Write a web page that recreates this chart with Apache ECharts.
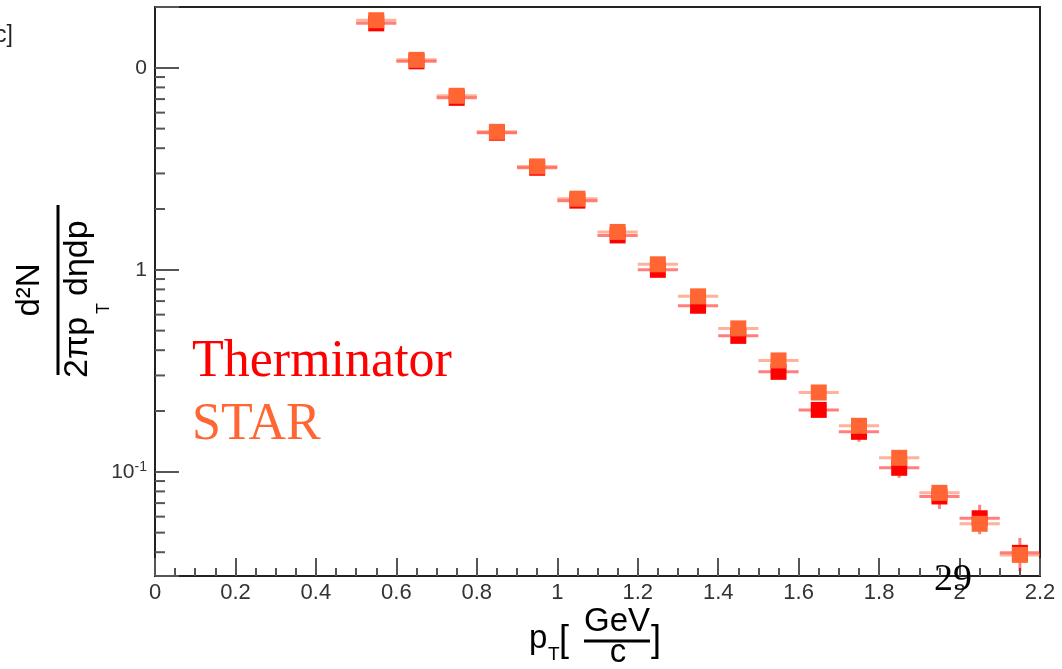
<!DOCTYPE html>
<html><head><meta charset="utf-8">
<script src="https://cdn.jsdelivr.net/npm/echarts@6/dist/echarts.min.js"></script>
<style>html,body{margin:0;padding:0;background:#fff}#c{width:1062px;height:669px}</style>
</head><body><div id="c"></div>
<script>
// ---- data ----
const pT = [0.55,0.65,0.75,0.85,0.95,1.05,1.15,1.25,1.35,1.45,1.55,1.65,1.75,1.85,1.95,2.05,2.15];
const pTHalfBin = [0.05,0.05,0.05,0.05,0.05,0.05,0.05,0.05,0.05,0.05,0.05,0.05,0.05,0.05,0.05,0.05,0.05];
const starY = [17.2,10.95,7.27,4.82,3.25,2.25,1.54,1.065,0.739,0.513,0.356,0.247,0.169,0.1173,0.0787,0.0553,0.0388];
const starErr = [0,0,0,0,0,0,0,0,0,0,0,0,0,0,0,0,0];
const thermY = [16.6,10.77,7.10,4.77,3.20,2.20,1.48,1.0,0.664,0.471,0.3126,0.2026,0.1578,0.1047,0.0755,0.0589,0.0397];
const thermErr = [0,0,0,0,0,0,0,0,0,0,0,0,0.017,0.0113,0.010,0.0098,0.0074];
const xTickLabels = ['0','0.2','0.4','0.6','0.8','1','1.2','1.4','1.6','1.8','2','2.2'];
const yMajorTicks = [0.1, 1, 10];
const yMajorLabels = ['{b|10}{s|-1}', '1', '0'];
const yMinorTicks = [0.04,0.05,0.06,0.07,0.08,0.09,0.2,0.3,0.4,0.5,0.6,0.7,0.8,0.9,2,3,4,5,6,7,8,9];

const SANS = '"Liberation Sans", Arial, sans-serif';
const SERIF = '"Liberation Serif", "Times New Roman", serif';

function makeRender(color, barColor) {
  return function (params, api) {
    const x = api.value(0), y = api.value(1), e = api.value(2), ex = api.value(3);
    const c = api.coord([x, y]);
    const l = api.coord([x - ex, y]), r = api.coord([x + ex, y]);
    const children = [
      {type: 'line', shape: {x1: l[0], y1: l[1], x2: r[0], y2: r[1]}, style: {stroke: barColor, lineWidth: 3}}
    ];
    if (e > 0) {
      const t = api.coord([x, y + e]), b = api.coord([x, y - e]);
      children.push({type: 'line', shape: {x1: t[0], y1: t[1], x2: b[0], y2: b[1]}, style: {stroke: barColor, lineWidth: 3}});
    }
    children.push({type: 'rect', shape: {x: c[0] - 8, y: c[1] - 8, width: 16, height: 16}, style: {fill: color}});
    return {type: 'group', children: children};
  };
}

function txt(x, y, text, font, fill, align, extra) {
  return Object.assign({type: 'text', x: x, y: y, z: 100,
    style: {text: text, font: font, fill: fill, align: align || 'left', textAlign: align || 'left',
      verticalAlign: 'middle', textVerticalAlign: 'middle'}}, extra || {});
}

const chart = echarts.init(document.getElementById('c'), null, {renderer: 'canvas'});
chart.setOption({
  animation: false,
  backgroundColor: '#fff',
  grid: {left: 155, right: 22, top: 7, bottom: 93, show: true, borderColor: '#222', borderWidth: 2, backgroundColor: 'transparent'},
  xAxis: {
    type: 'value', min: 0, max: 2.2, interval: 0.2,
    axisLine: {show: true, lineStyle: {color: '#222', width: 2}},
    axisTick: {show: true, inside: true, length: 18, lineStyle: {color: '#555', width: 2}},
    minorTick: {show: true, splitNumber: 4, length: 8, lineStyle: {color: '#555', width: 2}},
    splitLine: {show: false},
    axisLabel: {fontSize: 22, fontFamily: SANS, color: '#333', margin: 6,
      formatter: function (v) { return xTickLabels[Math.round(v / 0.2)] || ''; }}
  },
  yAxis: {
    type: 'log', logBase: 10, min: 0.0305, max: 20,
    axisLine: {show: true, lineStyle: {color: '#222', width: 2}},
    axisTick: {show: true, inside: true, length: 24, lineStyle: {color: '#555', width: 2}},
    splitLine: {show: false},
    axisLabel: {fontSize: 21, fontFamily: SANS, color: '#333', margin: 8,
      formatter: function (v) {
        for (let i = 0; i < yMajorTicks.length; i++) {
          if (Math.abs(Math.log10(v) - Math.log10(yMajorTicks[i])) < 1e-6) return yMajorLabels[i];
        }
        return '';
      },
      rich: {
        b: {fontSize: 21, fontFamily: SANS, color: '#333', lineHeight: 24},
        s: {fontSize: 14, fontFamily: SANS, color: '#333', lineHeight: 14, verticalAlign: 'top'}
      }
    }
  },
  series: [
    {
      type: 'custom', name: 'minorTicks', silent: true, clip: false, z: 3,
      data: yMinorTicks.map(function (v) { return [0, v]; }),
      renderItem: function (params, api) {
        const p = api.coord([0, api.value(1)]);
        return {type: 'line', shape: {x1: p[0], y1: p[1], x2: p[0] + 10, y2: p[1]}, style: {stroke: '#555', lineWidth: 2}};
      }
    },
    {
      type: 'custom', name: 'Therminator', clip: false, z: 4,
      data: pT.map(function (x, i) { return [x, thermY[i], thermErr[i], pTHalfBin[i]]; }),
      renderItem: makeRender('#ff0000', 'rgba(255,0,0,0.5)')
    },
    {
      type: 'custom', name: 'STAR', clip: false, z: 5,
      data: pT.map(function (x, i) { return [x, starY[i], starErr[i], pTHalfBin[i]]; }),
      renderItem: makeRender('#ff6633', 'rgba(255,102,51,0.5)')
    }
  ],
  graphic: [
    txt(-5, 36, 'c]', '23px ' + SANS, '#222'),
    {
      type: 'group', x: 58, y: 290, rotation: Math.PI / 2, z: 100,
      children: [
        {type: 'line', shape: {x1: -85, y1: 0, x2: 85, y2: 0}, style: {stroke: '#000', lineWidth: 3}},
        txt(0, -28, 'd²N', '33px ' + SANS, '#000', 'center'),
        txt(-88, 20, '2πp', '34px ' + SANS, '#000', 'left'),
        txt(-24, 46, 'T', '18px ' + SANS, '#000', 'left'),
        txt(-6, 20, 'dηdp', '34px ' + SANS, '#000', 'left')
      ]
    },
    txt(529, 639, 'p', '33px ' + SANS, '#000'),
    txt(548, 655, 'T', '19px ' + SANS, '#000'),
    txt(559, 641, '[', '36px ' + SANS, '#000'),
    txt(617, 622, 'GeV', '33px ' + SANS, '#000', 'center'),
    {type: 'line', z: 100, shape: {x1: 584, y1: 641, x2: 650, y2: 641}, style: {stroke: '#000', lineWidth: 3}},
    txt(618, 653, 'c', '33px ' + SANS, '#000', 'center'),
    txt(651, 641, ']', '36px ' + SANS, '#000'),
    txt(192, 362, 'Therminator', '52px ' + SERIF, '#ff0000'),
    txt(192, 425, 'STAR', '52px ' + SERIF, '#ff6633'),
    txt(934, 580, '29', '38px ' + SERIF, '#000')
  ]
});
</script></body></html>
